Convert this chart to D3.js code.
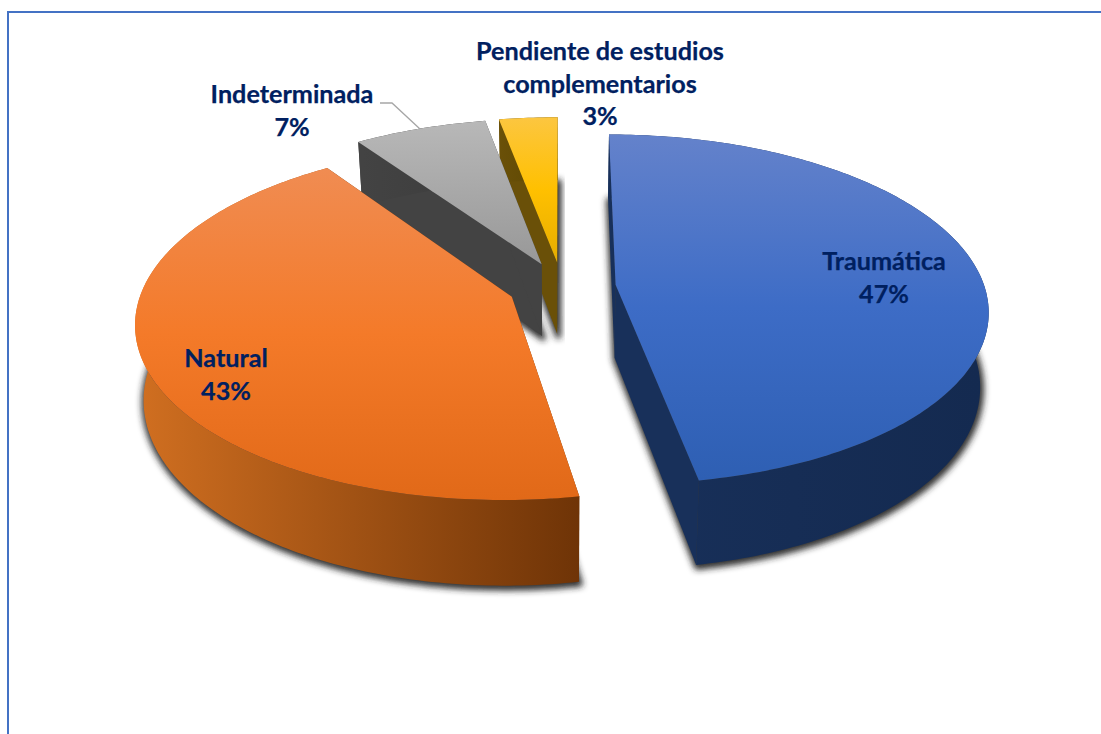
<!DOCTYPE html>
<html>
<head>
<meta charset="utf-8">
<style>
  html, body { margin: 0; padding: 0; background: #fff; }
  svg { display: block; }
  .lbl { font-family: Lato, "Open Sans", sans-serif; font-weight: 700; font-size: 25.2px; fill: #002060; stroke: #002060; stroke-width: 0.25px; text-anchor: middle; }
</style>
</head>
<body>
<script src="https://cdn.jsdelivr.net/npm/d3@7/dist/d3.min.js"></script>
<script>
// datos
var categories = ["Traumática", "Natural", "Indeterminada", "Pendiente de estudios complementarios"];
var percents = [47.2, 43.15, 6.7, 2.95];
var topColors = [
  ["#6482cb", "#3d6cc6", "#2e5fb3"],
  ["#f08c52", "#f47a29", "#e16918"],
  ["#b8b8b8", "#a8a8a8", "#989898"],
  ["#fcc640", "#ffc000", "#e6ad00"]
];
var wallColors = [
  ["#18305a", "#142a50"],
  ["#cf6e20", "#6f3407"],
  ["#434343", "#3c3c3c"],
  ["#6a5008", "#5a4500"]
];

var width = 1101, height = 734;

// proyeccion del pastel en perspectiva
var cx = 562, cy = 287, R = 369, tilt = 0.466, persp = 0.14;
var explode = 0.146, depth = 73, shrink = 0.98;

function project(px, py, low) {
  var w = 1 - persp * py;
  var s = low ? shrink : 1;
  return [cx + s * R * px / w, cy + (R * tilt * py + (low ? depth : 0)) / w];
}

var pie = d3.pie().sort(null).value(function(d) { return d; })
  .startAngle(0).endAngle(2 * Math.PI);
var arcs = pie(percents);

arcs.forEach(function(a) {
  a.mid = (a.startAngle + a.endAngle) / 2;
  a.ox = explode * Math.sin(a.mid);
  a.oy = -explode * Math.cos(a.mid);
  a.at = function(t, r, low) {
    return project(a.ox + r * Math.sin(t), a.oy - r * Math.cos(t), low);
  };
  a.rim = function(low) {
    var n = Math.ceil((a.endAngle - a.startAngle) * 60);
    return d3.range(n + 1).map(function(i) {
      return a.at(a.startAngle + (a.endAngle - a.startAngle) * i / n, 1, low);
    });
  };
});

var line = d3.line().curve(d3.curveLinear);
var closedPath = function(p) { return line(p) + "Z"; };

var svg = d3.select("body").append("svg").attr("width", width).attr("height", height);
var defs = svg.append("defs");

var blur = defs.append("filter").attr("id", "shadow")
  .attr("x", "-10%").attr("y", "-10%").attr("width", "120%").attr("height", "120%");
blur.append("feGaussianBlur").attr("stdDeviation", 3);

// marco
svg.append("path").attr("d", "M8,734V12H1101")
  .attr("fill", "none").attr("stroke", "#4472c4").attr("stroke-width", 2);

arcs.forEach(function(a, i) {
  var rim = a.rim(false);
  var y0 = d3.min(rim, function(d) { return d[1]; });
  var y1 = d3.max(rim.concat([a.at(0, 0, false)]), function(d) { return d[1]; });
  var g = defs.append("linearGradient").attr("id", "top" + i)
    .attr("gradientUnits", "userSpaceOnUse")
    .attr("x1", 0).attr("x2", 0).attr("y1", y0).attr("y2", y1);
  topColors[i].forEach(function(c, j) {
    g.append("stop").attr("offset", j / 2).attr("stop-color", c);
  });
  var low = a.rim(true);
  var x0 = d3.min(low, function(d) { return d[0]; });
  var x1 = d3.max(low, function(d) { return d[0]; });
  var h = defs.append("linearGradient").attr("id", "wall" + i)
    .attr("gradientUnits", "userSpaceOnUse")
    .attr("x1", x0).attr("x2", x1).attr("y1", 0).attr("y2", 0);
  wallColors[i].forEach(function(c, j) {
    h.append("stop").attr("offset", j).attr("stop-color", c);
  });
});

// sombras debajo de todo
svg.append("g").selectAll("path").data(arcs).enter().append("path")
  .attr("d", function(a) {
    return closedPath([a.at(0, 0, true)].concat(a.rim(true)));
  })
  .attr("transform", "translate(1,2)")
  .attr("fill", "#262626")
  .attr("stroke", "#262626")
  .attr("stroke-width", 6)
  .attr("stroke-linejoin", "round")
  .attr("fill-opacity", 0.9)
  .attr("stroke-opacity", 0.9)
  .attr("filter", "url(#shadow)");

// atras primero: amarillo, gris, luego azul y naranja
var order = [3, 2, 0, 1];
order.forEach(function(i) {
  var a = arcs[i];
  var s = svg.append("g").attr("class", "slice");
  var upper = a.rim(false), lower = a.rim(true);
  var wallFill = "url(#wall" + i + ")";
  var sideFill = wallColors[i][i === 1 ? 1 : 0];

  // paredes rectas
  [a.startAngle, a.endAngle].forEach(function(t) {
    s.append("path")
      .attr("d", closedPath([a.at(t, 0, false), a.at(t, 1, false), a.at(t, 1, true), a.at(t, 0, true)]))
      .attr("fill", sideFill);
  });
  // pared exterior
  s.append("path")
    .attr("d", closedPath(upper.concat(lower.slice().reverse())))
    .attr("fill", wallFill);
  // cara superior
  s.append("path")
    .attr("d", closedPath([a.at(0, 0, false)].concat(upper)))
    .attr("fill", "url(#top" + i + ")");
});

// linea guia de Indeterminada
svg.append("path").attr("d", line([[380, 103], [392, 103], [420, 129]]))
  .attr("fill", "none").attr("stroke", "#a6a6a6").attr("stroke-width", 1.3);

// etiquetas
var pct = function(i) { return Math.round(percents[i]) + "%"; };
var labelLines = [
  { x: 884, y: 270, t: [categories[0], pct(0)] },
  { x: 226, y: 367, t: [categories[1], pct(1)] },
  { x: 292, y: 103, t: [categories[2], pct(2)] },
  { x: 600, y: 60, t: ["Pendiente de estudios", "complementarios", pct(3)] }
];
labelLines.forEach(function(l) {
  var txt = svg.append("text").attr("class", "lbl");
  l.t.forEach(function(s, j) {
    txt.append("tspan").attr("x", l.x).attr("y", l.y + j * 32.5).text(s);
  });
});
</script>
</body>
</html>
